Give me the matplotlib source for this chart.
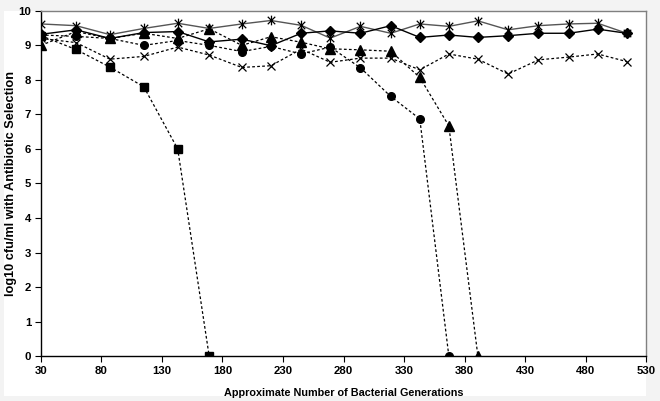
import numpy as np
import matplotlib
matplotlib.use("Agg")
import matplotlib.pyplot as plt
from matplotlib.path import Path
from matplotlib.patches import Rectangle


# DATA
gens = [30, 59, 87, 115, 143, 169, 196, 220, 245, 269,
        294, 319, 343, 367, 391, 416, 441, 466, 490, 514]

star_vals = [9.62, 9.57, 9.31, 9.49, 9.64, 9.49, 9.62, 9.72, 9.58, 9.21,
             9.55, 9.35, 9.62, 9.55, 9.71, 9.45, 9.57, 9.62, 9.64, 9.35]
diamond_vals = [9.32, 9.45, 9.20, 9.37, 9.40, 9.10, 9.18, 8.99, 9.35, 9.42,
                9.35, 9.57, 9.23, 9.30, 9.23, 9.28, 9.35, 9.35, 9.47, 9.35]
cross_vals = [9.20, 9.08, 8.60, 8.68, 8.95, 8.72, 8.36, 8.41, 8.89, 8.51,
              8.63, 8.63, 8.29, 8.75, 8.60, 8.17, 8.58, 8.66, 8.75, 8.53]

square_gens = [30, 59, 87, 115, 143, 169]
square_vals = [9.28, 8.88, 8.37, 7.80, 6.00, 0.0]

circle_gens = [30, 59, 87, 115, 143, 169, 196, 220, 245, 269, 294, 319, 343, 367]
circle_vals = [9.30, 9.26, 9.20, 9.00, 9.14, 9.00, 8.82, 8.97, 8.75, 8.95,
               8.35, 7.52, 6.87, 0.0]

tri_gens = [30, 59, 87, 115, 143, 169, 196, 220, 245, 269, 294, 319, 343, 367, 391]
tri_vals = [9.00, 9.40, 9.20, 9.35, 9.20, 9.48, 9.00, 9.25, 9.09, 8.90,
            8.87, 8.83, 8.07, 6.67, 0.0]

x_ticks = np.arange(30, 531, 50)
y_ticks = np.arange(0, 11, 1)


# star marker: x with a vertical bar (Excel style)
STAR = Path([(-1, -1), (1, 1), (-1, 1), (1, -1), (0, -1.3), (0, 1.3)],
            [Path.MOVETO, Path.LINETO, Path.MOVETO, Path.LINETO,
             Path.MOVETO, Path.LINETO])

plt.rcParams['font.family'] = ['Liberation Sans', 'DejaVu Sans']

fig = plt.figure(figsize=(6.6, 4.01), dpi=100, facecolor="#f3f3f3")
# white chart area (light grey margin around it, as in the pasted chart)
fig.add_artist(Rectangle((4 / 660, 5 / 401), 642 / 660, 385 / 401,
                         transform=fig.transFigure, facecolor="white",
                         edgecolor="none", zorder=-1))
ax = fig.add_axes([0.062, 0.112, 0.917, 0.861])
ax.set_zorder(1)

dots = (0, (2.2, 1.8))

ax.plot(gens, star_vals, color="#555555", lw=1.0, marker=STAR, ms=7,
        mec="black", mew=0.9, zorder=4)
ax.plot(gens, diamond_vals, color="black", lw=1.0, marker="D", ms=5,
        mfc="black", mec="black", zorder=4)
ax.plot(gens, cross_vals, color="black", lw=0.9, ls=dots, marker="x", ms=6,
        mec="black", mew=0.9, zorder=3)
ax.plot(square_gens, square_vals, color="black", lw=0.9, ls=dots, marker="s",
        ms=5.5, mfc="black", mec="black", zorder=3)
ax.plot(circle_gens, circle_vals, color="black", lw=0.9, ls=dots, marker="o",
        ms=5.5, mfc="black", mec="black", zorder=3)
ax.plot(tri_gens, tri_vals, color="black", lw=0.9, ls=dots, marker="^",
        ms=6.5, mfc="black", mec="black", zorder=3)

ax.set_xlim(30, 530)
ax.set_ylim(0, 10)
ax.set_xticks(x_ticks)
ax.set_yticks(y_ticks)
ax.tick_params(axis="both", direction="out", length=4, width=0.8,
               labelsize=8.2, pad=3)
for lab in ax.get_xticklabels() + ax.get_yticklabels():
    lab.set_fontweight("bold")

for side in ["top", "right"]:
    ax.spines[side].set_color("#808080")
    ax.spines[side].set_linewidth(1.0)
for side in ["left", "bottom"]:
    ax.spines[side].set_color("black")
    ax.spines[side].set_linewidth(1.0)

ax.set_xlabel("Approximate Number of Bacterial Generations",
              fontsize=7.8, fontweight="bold")
ax.xaxis.set_label_coords(0.5, -0.092)
ax.set_ylabel("log10 cfu/ml with Antibiotic Selection",
              fontsize=9.2, fontweight="bold")
ax.yaxis.set_label_coords(-0.039, 0.5)

fig.savefig("out.png", dpi=100, facecolor=fig.get_facecolor())
